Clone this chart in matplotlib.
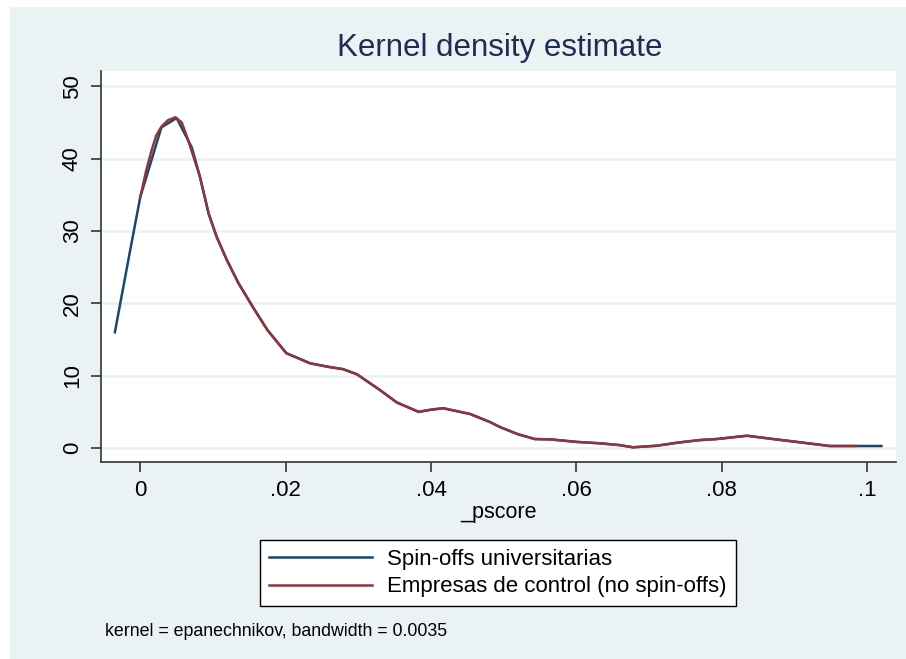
import matplotlib
matplotlib.use("Agg")
import matplotlib.pyplot as plt
from matplotlib.patches import Rectangle

plt.rcParams['font.family'] = ['Liberation Sans', 'DejaVu Sans']

# density, spin-offs (coarser curve, starts below zero)
x_spin = [-0.0035, -0.0014, 0.0, 0.0029, 0.0050, 0.0071, 0.0082, 0.0094, 0.0105,
          0.0119, 0.0135, 0.0156, 0.0175, 0.0201, 0.0234, 0.0260, 0.0279, 0.0298,
          0.0330, 0.0353, 0.0383, 0.0400, 0.0417, 0.0454, 0.0481, 0.0495, 0.0520,
          0.0543, 0.0564, 0.0600, 0.0633, 0.0660, 0.0678, 0.0711, 0.0740, 0.0770,
          0.0793, 0.0835, 0.0871, 0.0908, 0.0949, 0.0985, 0.1020]
y_spin = [16.0, 27.3, 34.7, 44.3, 45.6, 41.5, 37.5, 32.4, 29.2,
          26.0, 22.8, 19.3, 16.3, 13.1, 11.7, 11.2, 10.9, 10.2,
          8.0, 6.3, 5.0, 5.3, 5.5, 4.7, 3.6, 2.9, 1.9,
          1.24, 1.2, 0.85, 0.65, 0.4, 0.1, 0.32, 0.75, 1.1,
          1.24, 1.7, 1.24, 0.79, 0.28, 0.28, 0.28]

# density, control firms
x_ctrl = [0.0, 0.0008, 0.00157, 0.0022, 0.0029, 0.0038, 0.0048, 0.0057, 0.0066,
          0.0074, 0.0082, 0.0094, 0.0105, 0.0119, 0.0135, 0.0156, 0.0175, 0.0201,
          0.0234, 0.0260, 0.0279, 0.0298, 0.0330, 0.0353, 0.0383, 0.0400, 0.0417,
          0.0454, 0.0481, 0.0495, 0.0520, 0.0543, 0.0564, 0.0600, 0.0633, 0.0660,
          0.0678, 0.0711, 0.0740, 0.0770, 0.0793, 0.0835, 0.0871, 0.0908, 0.0949,
          0.0985]
y_ctrl = [34.7, 38.3, 41.2, 43.2, 44.4, 45.3, 45.7, 45.0, 42.5,
          40.0, 37.5, 32.4, 29.2, 26.0, 22.8, 19.3, 16.3, 13.1,
          11.7, 11.2, 10.9, 10.2, 8.0, 6.3, 5.0, 5.3, 5.5,
          4.7, 3.6, 2.9, 1.9, 1.24, 1.2, 0.85, 0.65, 0.4,
          0.1, 0.32, 0.75, 1.1, 1.24, 1.7, 1.24, 0.79, 0.28,
          0.28]

xticks = [0, 0.02, 0.04, 0.06, 0.08, 0.1]
xticklabels = ['0', '.02', '.04', '.06', '.08', '.1']
yticks = [0, 10, 20, 30, 40, 50]
labels = ['Spin-offs universitarias', 'Empresas de control (no spin-offs)']

W, H = 906, 659
fig = plt.figure(figsize=(W / 100, H / 100), dpi=100, facecolor='white')
bg = '#eaf2f3'
fig.patches.append(Rectangle((10 / W, 0), 1, 1 - 7 / H, transform=fig.transFigure,
                             facecolor=bg, edgecolor='none', zorder=-10))

ax = fig.add_axes([101 / W, 1 - 462 / H, (896 - 101) / W, (462 - 71) / H])
ax.set_facecolor('white')
ax.plot(x_spin, y_spin, color='#1a476f', lw=1.8, label=labels[0], zorder=3)
ax.plot(x_ctrl, y_ctrl, color='#90353b', lw=1.8, label=labels[1], zorder=4)

ax.set_xlim(-0.00541, 0.104)
ax.set_ylim(-1.93, 52.1)
ax.set_xticks(xticks)
ax.set_xticklabels(xticklabels)
ax.set_yticks(yticks)
ax.set_yticklabels([str(v) for v in yticks], rotation=90, va='center')
ax.tick_params(labelsize=16, length=7, width=1.2, color='#333333', pad=6)
for s in ['top', 'right']:
    ax.spines[s].set_visible(False)
for s in ['left', 'bottom']:
    ax.spines[s].set_color('#333333')
    ax.spines[s].set_linewidth(1.2)
ax.grid(axis='y', color=bg, lw=2)
ax.set_axisbelow(True)

fig.text(500 / W, 1 - 48 / H, 'Kernel density estimate', ha='center', va='center',
         fontsize=22.5, color='#1e2d53')
ax.set_xlabel('_pscore', fontsize=15.5, labelpad=1)

leg = fig.legend(loc='center', bbox_to_anchor=(498 / W, 1 - 573 / H), fontsize=16,
                 frameon=True, fancybox=False, framealpha=1, handlelength=4.6,
                 handletextpad=0.7, labelspacing=0.3, borderpad=0.4)
leg.get_frame().set_edgecolor('black')
leg.get_frame().set_linewidth(1.0)

fig.text(105 / W, 1 - 632 / H, 'kernel = epanechnikov, bandwidth = 0.0035',
         ha='left', va='center', fontsize=12.8)

fig.savefig('out.png', dpi=100, facecolor=fig.get_facecolor())
